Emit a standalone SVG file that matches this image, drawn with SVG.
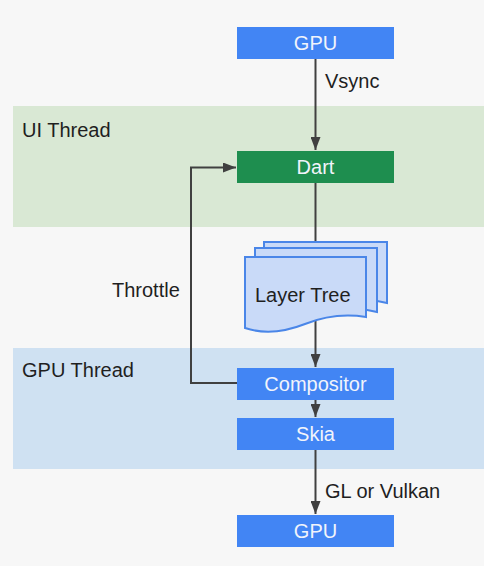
<svg xmlns="http://www.w3.org/2000/svg" width="484" height="566" viewBox="0 0 484 566">
<style>
text{font-family:"Liberation Sans",Arial,sans-serif;font-size:20px}
.lbl{fill:#1f1f1f}
.bt{fill:#f1f4fb;text-anchor:middle}
.blue{fill:#4285f4}
.green{fill:#1e8e4f}
.page{fill:#c9daf8;stroke:#4a86e8;stroke-width:2}
.conn{fill:none;stroke:#404040;stroke-width:2}
</style>
<defs>
<marker id="ah" viewBox="0 0 13 10" refX="13" refY="5" markerWidth="6.5" markerHeight="5" orient="auto" markerUnits="strokeWidth">
<path d="M0,0 L13,5 L0,10 z" fill="#404040"/>
</marker>
</defs>
<rect width="484" height="566" fill="#f7f7f7"/>
<g id="ui-thread">
<rect x="13" y="106" width="471" height="121" fill="#d9e8d4"/>
<text class="lbl" x="22" y="137">UI Thread</text>
</g>
<g id="gpu-thread">
<rect x="13" y="348" width="471" height="121" fill="#cfe1f2"/>
<text class="lbl" x="22" y="377">GPU Thread</text>
</g>
<g id="connectors">
<line class="conn" x1="315.5" y1="59" x2="315.5" y2="150" marker-end="url(#ah)"/>
<line class="conn" x1="315.5" y1="183" x2="315.5" y2="367" marker-end="url(#ah)"/>
<line class="conn" x1="315.5" y1="400" x2="315.5" y2="417" marker-end="url(#ah)"/>
<line class="conn" x1="315.5" y1="450" x2="315.5" y2="514" marker-end="url(#ah)"/>
<polyline class="conn" points="237,383 191,383 191,167.5 236,167.5" marker-end="url(#ah)"/>
<text class="lbl" x="325" y="88">Vsync</text>
<text class="lbl" x="112" y="297">Throttle</text>
<text class="lbl" x="325" y="498">GL or Vulkan</text>
</g>
<g id="gpu-top">
<rect class="blue" x="237" y="27" width="157" height="32"/>
<text class="bt" x="315.5" y="50">GPU</text>
</g>
<g id="dart">
<rect class="green" x="237" y="151" width="157" height="32"/>
<text class="bt" x="315.5" y="174">Dart</text>
</g>
<g id="layer-tree">
<path class="page" d="M264,242 H387 V303 Q360,296 335,306 Q300,318 264,304 Z"/>
<path class="page" d="M255,248 H377 V312 Q350,305 325,315 Q290,327 255,313 Z"/>
<path class="page" d="M245,257 H366 V317 Q335,312 305,324 Q272,337 245,328 Z"/>
<text class="lbl" x="255" y="302">Layer Tree</text>
</g>
<g id="compositor">
<rect class="blue" x="237" y="368" width="157" height="32"/>
<text class="bt" x="315.5" y="391">Compositor</text>
</g>
<g id="skia">
<rect class="blue" x="237" y="418" width="157" height="32"/>
<text class="bt" x="315.5" y="441">Skia</text>
</g>
<g id="gpu-bottom">
<rect class="blue" x="237" y="515" width="157" height="32"/>
<text class="bt" x="315.5" y="538">GPU</text>
</g>
</svg>
